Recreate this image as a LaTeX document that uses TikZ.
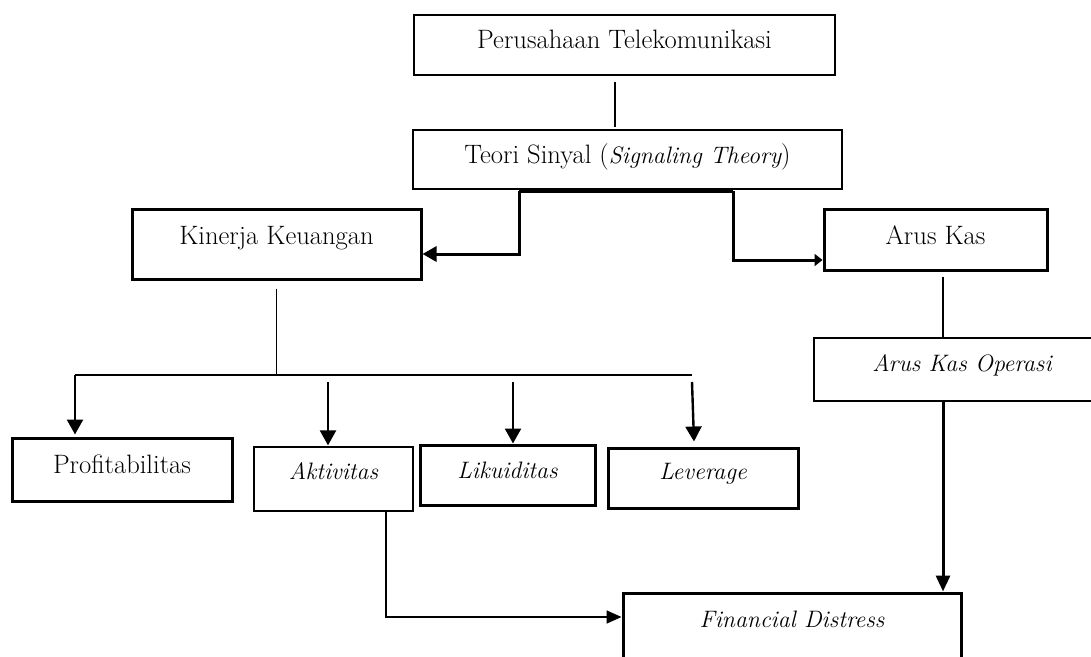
\documentclass[tikz,border=0pt]{standalone}
\usepackage{fontspec}
\usetikzlibrary{arrows.meta,calc}
\newcommand\itx[1]{{\fontsize{23.8}{28}\selectfont\itshape #1}}
\begin{document}
\begin{tikzpicture}[x=1pt,y=-1pt,
  box/.style={draw, rectangle, inner sep=0pt, font=\fontsize{26.6}{31}\selectfont, text height=18pt},
  thinb/.style={box, line width=1.3pt},
  thickb/.style={box, line width=3pt},
  dp/.style={text depth=#1},
  thinl/.style={line width=1.3pt},
  medl/.style={line width=1.7pt},
  arrl/.style={line width=2.4pt},
  thickl/.style={line width=3pt},
  tip/.style={-{Triangle[length=15pt,width=16pt]}}
]
\clip (0,0) rectangle (1091,656);
% boxes
\node[thinb, minimum width=421pt, minimum height=60pt, dp=12pt] (p) at (624.5,45) {Perusahaan Telekomunikasi};
\node[thinb, minimum width=429pt, minimum height=59pt, dp=11pt] (t) at (627.5,159.5) {Teori Sinyal (\itx{Signaling Theory})};
\node[thickb, minimum width=289pt, minimum height=70pt, dp=18pt] (k) at (276.5,244) {Kinerja Keuangan};
\node[thickb, minimum width=223pt, minimum height=61pt, dp=9pt] (a) at (935.5,239.5) {Arus Kas};
\node[thinb, minimum width=296pt, minimum height=63pt, dp=15pt] (o) at (962,369.5) {\itx{Arus Kas Operasi}};
\node[thickb, minimum width=220pt, minimum height=63pt, dp=11pt] (pr) at (122,469.5) {Profitabilitas};
\node[thinb, minimum width=159pt, minimum height=64pt, dp=18pt] (ak) at (333.5,479) {\itx{Aktivitas}};
\node[thickb, minimum width=175pt, minimum height=60pt, dp=12pt] (li) at (507.5,475) {\itx{Likuiditas}};
\node[thickb, minimum width=190pt, minimum height=60pt, dp=16pt] (le) at (703,478) {\itx{Leverage}};
\node[thickb, minimum width=338pt, minimum height=67pt, dp=17pt] (fd) at (792,626.5) {\itx{Financial Distress}};
% coordinates
\coordinate (tb1) at (519,191);
\coordinate (tb2) at (733,191);
\coordinate (as1) at ($(a.south)+(7.5,5)$);
\coordinate (kb) at ($(k.south)+(0,8)$);
\coordinate (br) at (276.5,375);
\coordinate (hl) at (75,375);
\coordinate (hr) at (692,375);
\coordinate (akt) at (328,382);
\coordinate (lit) at (513,382);
\coordinate (let) at (692,382);
\coordinate (akb) at ($(ak.south)+(52.5,0)$);
\coordinate (ob) at ($(o.south)+(-19,0)$);
% connectors
\draw[thinl] ($(p.south)+(-9.5,6)$) -- ($(t.north)+(-12.5,-2)$);
\draw[thickl] (tb1) -- (tb2);
\draw[thickl, -{Triangle[length=14pt,width=15pt]}] (tb1) |- ($(k.east)+(0,10)$);
\draw[thickl, -{Triangle[length=8pt,width=12pt]}] (tb2) |- ($(a.west)+(0,20.5)$);
\draw[thinl] (as1) -- (as1 |- o.north);
\draw[thinl] (kb) -- (br);
\draw[medl] (hl) -- (hr);
\draw[arrl, tip] (hl) -- ($(hl |- pr.north)+(0,-2)$);
\draw[arrl, tip] (akt) -- ($(akt |- ak.north)+(0,-1)$);
\draw[arrl, tip] (lit) -- (lit |- li.north);
\draw[arrl, tip] (let) -- ($(le.north)+(-9,-5)$);
\draw[medl, -{Triangle[length=15pt,width=13pt]}] (akb) |- ($(fd.west)+(0,-9.5)$);
\draw[thickl, -{Triangle[length=16pt,width=14pt]}] (ob) -- (ob |- fd.north);
\end{tikzpicture}
\end{document}
